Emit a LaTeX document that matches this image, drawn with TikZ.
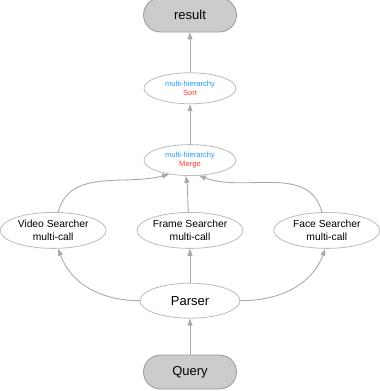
\documentclass[tikz,border=0pt]{standalone}
\usepackage{fontspec}
\setmainfont{Liberation Sans}
\usepackage{xcolor}
\usetikzlibrary{arrows.meta,positioning,shapes.geometric}
\definecolor{termgray}{HTML}{CCCCCC}
\definecolor{termline}{HTML}{999999}
\definecolor{stepline}{HTML}{BBBBBB}
\definecolor{edgegray}{HTML}{AAAAAA}
\definecolor{hierblue}{HTML}{1E9BFF}
\definecolor{oprred}{HTML}{FF3B2F}

\begin{document}
\begin{tikzpicture}[
    x=1pt, y=1pt,
    node distance=36pt and 30pt,
    term/.style={draw=termline, fill=termgray, rounded corners=17pt, line width=0.8pt,
      minimum width=93pt, minimum height=34pt, font=\fontsize{13}{15}\selectfont},
    stage/.style={draw=stepline, ellipse, line width=0.8pt, inner sep=0pt, align=center,
      minimum width=106pt, minimum height=36pt, font=\fontsize{10.3}{13.5}\selectfont},
    hier/.style={draw=stepline, ellipse, line width=0.8pt, inner sep=0pt, align=center,
      minimum width=92pt, minimum height=31pt, font=\fontsize{7.6}{9.5}\selectfont},
    arrow/.style={-{Triangle[length=7pt,width=5pt]}, draw=edgegray, line width=0.9pt}
  ]
    \useasboundingbox (0,0) rectangle (380,-391);
    \node[term] (query) at (190,-372) {Query};
    \node[stage, minimum width=100pt, minimum height=35pt, font=\fontsize{13}{15}\selectfont,
      above=of query] (parser) {Parser};
    \node[stage, above=34pt of parser] (frame) {Frame Searcher\\multi-call};
    \node[stage, left=of frame] (video) {Video Searcher\\multi-call};
    \node[stage, right=of frame] (face) {Face Searcher\\multi-call};
    \node[hier, above=of frame] (merge) {\textcolor{hierblue}{multi-hierarchy}\\\textcolor{oprred}{Merge}};
    \node[hier, above=40pt of merge] (sort) {\textcolor{hierblue}{multi-hierarchy}\\\textcolor{oprred}{Sort}};
    \node[term, above=40pt of sort] (result) {result};
    % parser fans out to the searchers
    \draw[arrow] (query) -- (parser);
    \draw[arrow] (parser.west) to[out=180,in=-70] (video.-75);
    \draw[arrow] (parser) -- (frame);
    \draw[arrow] (parser.east) to[out=0,in=-110] (face.-95);
    % searchers merge
    \draw[arrow] (video.75) to[out=75,in=195] (merge.-146);
    \draw[arrow] (frame.95) to[out=95,in=-80] (merge.-105);
    \draw[arrow] (face.105) to[out=105,in=-20] (merge.-60);
    \draw[arrow] (merge) -- (sort);
    \draw[arrow] (sort) -- (result);
  \end{tikzpicture}
\end{document}
